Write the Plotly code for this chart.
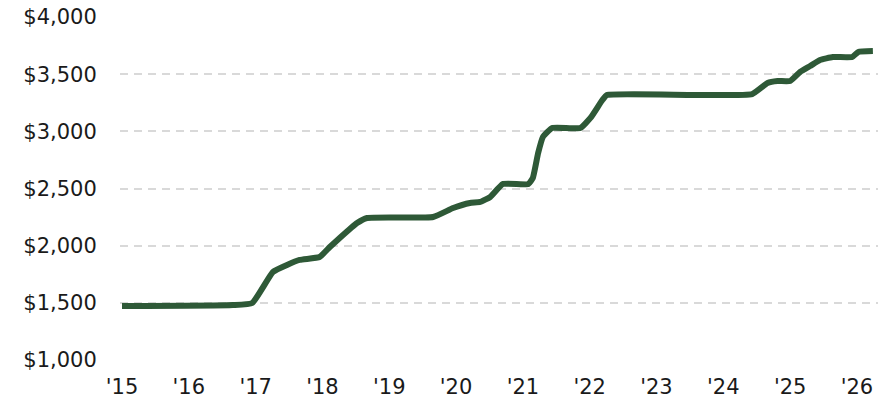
import plotly.graph_objects as go

# Monthly benefit level over time (USD)
dates = [
    "2015-01-01", "2016-08-29", "2016-12-13", "2017-04-05", "2017-06-21",
    "2017-08-29", "2017-12-16", "2018-02-10", "2018-04-05", "2018-07-09",
    "2018-09-02", "2019-08-29", "2019-12-16", "2020-03-17", "2020-05-12",
    "2020-07-06", "2020-09-13", "2021-01-30", "2021-02-24", "2021-03-25",
    "2021-04-20", "2021-06-10", "2021-11-10", "2022-01-05", "2022-03-11",
    "2022-04-05", "2024-06-07", "2024-08-30", "2024-10-24", "2025-01-01",
    "2025-02-24", "2025-04-20", "2025-06-13", "2025-08-22", "2025-12-06",
    "2026-01-08", "2026-03-29",
]
values = [
    1472, 1481, 1499, 1770, 1831,
    1875, 1901, 1988, 2067, 2198,
    2242, 2251, 2329, 2373, 2382,
    2426, 2539, 2539, 2592, 2810,
    2950, 3029, 3029, 3117, 3274,
    3318, 3326, 3423, 3440, 3440,
    3519, 3571, 3624, 3650, 3650,
    3694, 3702,
]

year_ticks = [f"{y}-01-01" for y in range(2015, 2027)]
year_labels = [f"'{str(y)[2:]}" for y in range(2015, 2027)]
y_ticks = [1000, 1500, 2000, 2500, 3000, 3500, 4000]
y_labels = [f"${v:,}" for v in y_ticks]

fig = go.Figure()
fig.add_trace(go.Scatter(
    x=dates, y=values, mode="lines",
    line=dict(color="#2e5937", width=6, shape="spline", smoothing=0.4),
    hoverinfo="skip",
))

font = dict(family="DejaVu Sans, Verdana, sans-serif", size=21, color="#1a1a1a")

fig.update_layout(
    width=881, height=399,
    margin=dict(l=120, r=3, t=17, b=39),
    paper_bgcolor="white", plot_bgcolor="white",
    showlegend=False,
    font=font,
    xaxis=dict(
        type="date",
        range=["2014-12-21", "2026-04-26"],
        tickvals=year_ticks, ticktext=year_labels,
        showgrid=False, zeroline=False, showline=False,
        ticks="outside", ticklen=8, tickcolor="rgba(0,0,0,0)",
        tickfont=font, automargin=False,
    ),
    yaxis=dict(
        range=[1000, 4000],
        tickvals=y_ticks, ticktext=y_labels,
        showgrid=True, gridcolor="#d9d9d9", gridwidth=1.5, griddash="8px,6px",
        zeroline=False, showline=False,
        ticks="outside", ticklen=18, tickcolor="rgba(0,0,0,0)",
        tickfont=font, automargin=False,
    ),
)

fig.write_html("out.html")
